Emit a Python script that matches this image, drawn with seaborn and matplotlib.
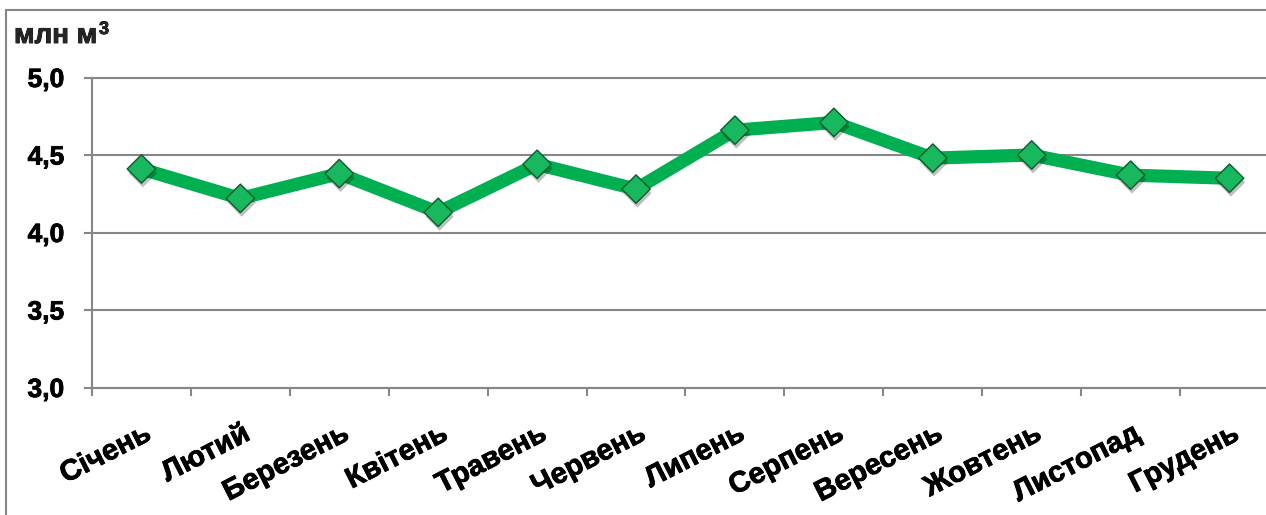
import numpy as np
import pandas as pd
import matplotlib
matplotlib.use("Agg")
import matplotlib.pyplot as plt
import matplotlib.transforms as mtransforms
from matplotlib import patheffects as pe
from matplotlib.patches import Rectangle
import seaborn as sns

# ---- data ----
months = ["Січень", "Лютий", "Березень", "Квітень", "Травень", "Червень",
          "Липень", "Серпень", "Вересень", "Жовтень", "Листопад", "Грудень"]
values = [4.41, 4.22, 4.38, 4.13, 4.44, 4.28, 4.66, 4.71, 4.48, 4.50, 4.37, 4.35]
y_ticks = [3.0, 3.5, 4.0, 4.5, 5.0]
y_tick_labels = ["3,0", "3,5", "4,0", "4,5", "5,0"]
unit_text = "млн м"
unit_sup = "3"

# ---- style ----
sns.set_theme(style="white")
plt.rcParams["font.family"] = ["Liberation Sans", "DejaVu Sans"]
GRID = "#878787"
LINE = "#00B050"
heavy = [pe.withStroke(linewidth=0.6, foreground="black")]

W, H = 1266, 515
fig = plt.figure(figsize=(W / 100, H / 100), dpi=100)
fig.patch.set_facecolor("white")

# outer chart frame (extends beyond the cropped image on right/bottom)
top = 1 - 10 / H
frame = Rectangle((6 / W, -0.2), 1.2, top + 0.2, transform=fig.transFigure,
                  fill=False, edgecolor=GRID, linewidth=1.5, zorder=0)
fig.patches.append(frame)

ax = fig.add_axes([92 / W, 127.5 / H, 1187 / W, 310 / H])
ax.set_facecolor("none")

df = pd.DataFrame({"month": months, "value": values})
sns.lineplot(data=df, x="month", y="value", ax=ax, sort=False, color=LINE,
             linewidth=9.5, zorder=3)
sns.scatterplot(data=df, x="month", y="value", ax=ax, marker="D", s=14.5 ** 2,
                color="#17B85E", edgecolor="#0B5A2C", linewidth=1.0, zorder=4)
for coll in ax.collections:
    coll.set_path_effects([pe.SimplePatchShadow(offset=(1, -3), shadow_rgbFace="black", alpha=0.25),
                           pe.Normal()])
    coll.set_clip_on(False)

ax.set_xlim(-0.5, 11.5)
ax.set_ylim(3.0, 5.0)
ax.set_xlabel("")
ax.set_ylabel("")

# y axis
ax.set_yticks(y_ticks)
ax.set_yticklabels(y_tick_labels, fontsize=19, fontweight="bold", color="black")
ax.yaxis.grid(True, color=GRID, linewidth=1.5)
for gl in ax.get_ygridlines():
    gl.set_clip_on(False)
ax.tick_params(axis="y", which="major", left=True, length=6, width=1.5, color=GRID,
               pad=14, direction="out")
for lab in ax.get_yticklabels():
    lab.set_path_effects(heavy)

# x axis
ax.set_xticks(range(len(months)))
ax.set_xticklabels(months, fontsize=21, fontweight="bold", color="black",
                   rotation=27, ha="right", va="top", rotation_mode="anchor")
ax.set_xticks(np.arange(-0.5, len(months), 1.0), minor=True)
ax.tick_params(axis="x", which="major", bottom=True, length=0, pad=23)
ax.tick_params(axis="x", which="minor", bottom=True, length=6, width=1.5, color=GRID,
               direction="out")
shift = mtransforms.ScaledTranslation(1 / 100, 0, fig.dpi_scale_trans)
for lab in ax.get_xticklabels():
    lab.set_transform(lab.get_transform() + shift)
    lab.set_path_effects(heavy)

for side in ["top", "right"]:
    ax.spines[side].set_visible(False)
for side in ["left", "bottom"]:
    ax.spines[side].set_color(GRID)
    ax.spines[side].set_linewidth(1.5)

# unit label
fig.text(14 / W, 1 - 43 / H, unit_text, fontsize=20, fontweight="bold",
         ha="left", va="baseline", path_effects=heavy)
fig.text(99 / W, 1 - 34 / H, unit_sup, fontsize=13, fontweight="bold",
         ha="left", va="baseline", path_effects=heavy)

fig.savefig("out.png", dpi=100)
